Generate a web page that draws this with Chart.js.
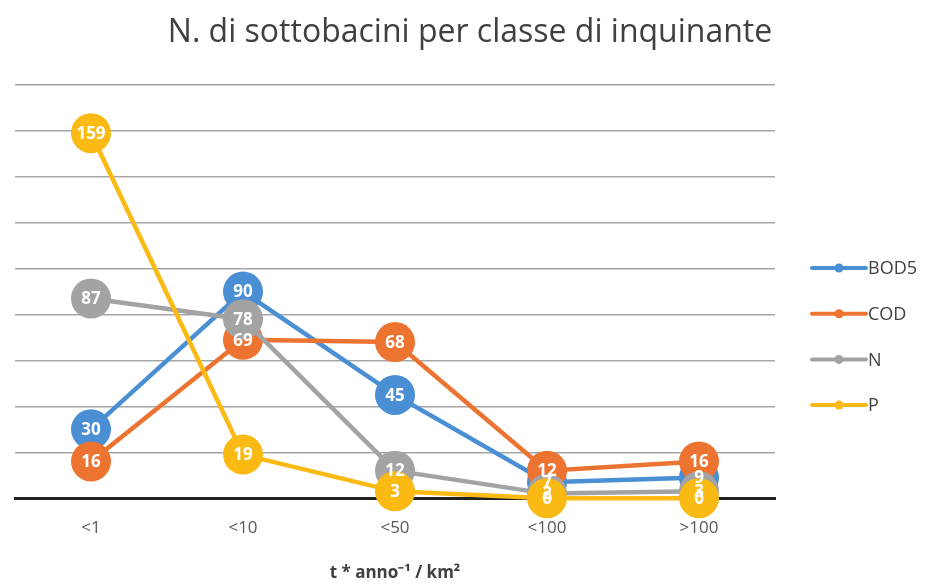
<!DOCTYPE html>
<html>
<head>
<meta charset="utf-8">
<script src="https://cdn.jsdelivr.net/npm/chart.js@4.4.0/dist/chart.umd.min.js"></script>
<style>
    html, body { margin: 0; padding: 0; background: #fff; }
    #wrap { width: 934px; height: 585px; }
</style>
</head>
<body>
<div id="wrap"><canvas id="chart" width="934" height="585"></canvas></div>
<script>
// N. di sottobacini per classe di inquinante

const categories = ['<1', '<10', '<50', '<100', '>100'];
const seriesNames = ['BOD5', 'COD', 'N', 'P'];
const bod5 = [30, 90, 45, 7, 9];
const cod = [16, 69, 68, 12, 16];
const nitrogen = [87, 78, 12, 2, 3];
const phosphorus = [159, 19, 3, 0, 0];
const yTicks = [0, 20, 40, 60, 80, 100, 120, 140, 160, 180];

const chartTitle = 'N. di sottobacini per classe di inquinante';
const colors = ['#4A8FD4', '#EC7330', '#A3A3A3', '#FBBA13'];
const FONT = '"Open Sans", "Liberation Sans", sans-serif';

// title centred on the whole canvas
const topTitle = {
    id: 'topTitle',
    afterDraw(chart) {
        const ctx = chart.ctx;
        ctx.save();
        ctx.font = '32px ' + FONT;
        ctx.fillStyle = '#404040';
        ctx.textAlign = 'center';
        ctx.textBaseline = 'middle';
        ctx.fillText(chartTitle, 470, 33);
        ctx.restore();
    }
};

// white value labels inside the markers
const valueLabels = {
    id: 'valueLabels',
    afterDatasetsDraw(chart) {
        const ctx = chart.ctx;
        ctx.save();
        ctx.font = 'bold 17px ' + FONT;
        ctx.fillStyle = '#fff';
        ctx.textAlign = 'center';
        ctx.textBaseline = 'middle';
        chart.data.datasets.forEach((ds, i) => {
            chart.getDatasetMeta(i).data.forEach((pt, j) => {
                ctx.fillText(String(ds.data[j]), pt.x, pt.y + 1);
            });
        });
        ctx.restore();
    }
};

// legend on the right: line with a small dot, then the name
const sideLegend = {
    id: 'sideLegend',
    afterDraw(chart) {
        const ctx = chart.ctx;
        const x0 = 812, top = 268, step = 45.7;
        ctx.save();
        ctx.font = '18px ' + FONT;
        ctx.textBaseline = 'middle';
        seriesNames.forEach((name, i) => {
            const y = top + i * step;
            ctx.strokeStyle = colors[i];
            ctx.lineWidth = 4;
            ctx.lineCap = 'round';
            ctx.beginPath();
            ctx.moveTo(x0, y);
            ctx.lineTo(x0 + 54, y);
            ctx.stroke();
            ctx.fillStyle = colors[i];
            ctx.beginPath();
            ctx.arc(x0 + 27, y, 4.5, 0, Math.PI * 2);
            ctx.fill();
            ctx.fillStyle = '#404040';
            ctx.fillText(name, x0 + 56, y + 1);
        });
        ctx.restore();
    }
};

const seriesData = [bod5, cod, nitrogen, phosphorus];

new Chart(document.getElementById('chart'), {
    type: 'line',
    data: {
        labels: categories,
        datasets: seriesNames.map((name, i) => ({
            label: name,
            data: seriesData[i],
            borderColor: colors[i],
            backgroundColor: colors[i],
            borderWidth: 4.5,
            pointRadius: 20,
            pointHoverRadius: 20,
            pointBorderWidth: 0,
            tension: 0,
            clip: false,
            order: 4 - i
        }))
    },
    plugins: [valueLabels, sideLegend, topTitle],
    options: {
        responsive: false,
        animation: false,
        events: [],
        layout: { autoPadding: false, padding: { left: 15, right: 159, top: 85, bottom: 2 } },
        plugins: {
            legend: { display: false },
            tooltip: { enabled: false },
            title: { display: false }
        },
        scales: {
            x: {
                offset: true,
                grid: { display: false },
                border: { display: true, color: '#222', width: 3 },
                ticks: { color: '#595959', font: { family: FONT, size: 17 }, padding: 12 },
                title: {
                    display: true,
                    text: 't * anno\u207B\u00B9 / km\u00B2',
                    color: '#404040',
                    font: { family: FONT, size: 17, weight: 'bold' },
                    padding: { top: 12, bottom: 0 }
                }
            },
            y: {
                min: 0,
                max: 180,
                afterBuildTicks(axis) { axis.ticks = yTicks.map(v => ({ value: v })); },
                afterFit(axis) { axis.width = 0; },
                ticks: { display: false },
                border: { display: false },
                grid: { color: '#A6A6A6', lineWidth: 1.5, drawTicks: false }
            }
        }
    }
});
</script>
</body>
</html>
